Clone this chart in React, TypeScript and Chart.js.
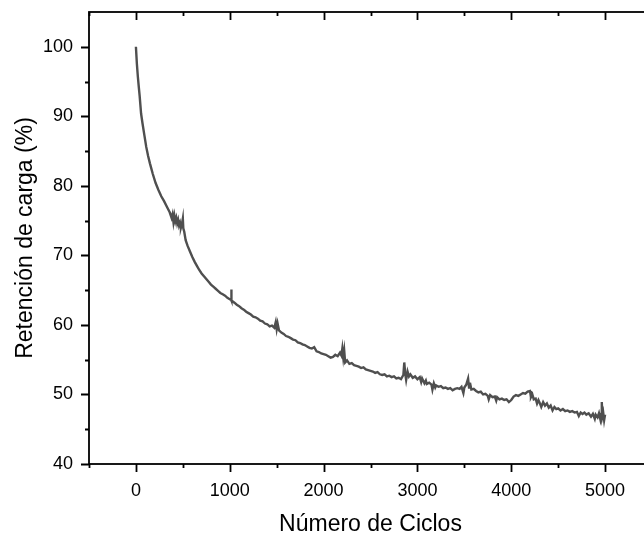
import React, { useEffect, useRef } from "react";
import { Chart, registerables } from "chart.js";

Chart.register(...registerables);

const cycles = [
  0, 10, 20, 30, 40, 55, 70, 90, 110, 130, 150, 180, 210, 240, 270, 300, 330, 360, 380, 390,
  400, 410, 420, 430, 440, 450, 460, 470, 480, 490, 500, 505, 515, 530, 550, 575, 600, 625, 650, 675,
  700, 725, 750, 775, 800, 825, 850, 875, 900, 925, 950, 975, 1000, 1015, 1016, 1020, 1050, 1075, 1100, 1125,
  1150, 1175, 1200, 1225, 1250, 1275, 1300, 1325, 1350, 1375, 1400, 1425, 1450, 1475, 1490, 1500, 1510, 1525, 1550, 1575,
  1600, 1625, 1650, 1675, 1700, 1725, 1750, 1775, 1800, 1825, 1850, 1875, 1900, 1925, 1950, 1975, 2000, 2025, 2050, 2075,
  2100, 2125, 2150, 2175, 2190, 2200, 2210, 2220, 2230, 2250, 2275, 2300, 2325, 2350, 2375, 2400, 2425, 2450, 2475, 2500,
  2525, 2550, 2575, 2600, 2625, 2650, 2675, 2700, 2725, 2750, 2775, 2800, 2825, 2850, 2860, 2870, 2880, 2895, 2910, 2925,
  2950, 2975, 3000, 3025, 3040, 3050, 3075, 3090, 3100, 3125, 3150, 3160, 3175, 3190, 3200, 3225, 3250, 3275, 3300, 3325,
  3350, 3375, 3400, 3425, 3450, 3470, 3490, 3500, 3520, 3540, 3550, 3560, 3575, 3600, 3625, 3650, 3675, 3700, 3725, 3750,
  3760, 3775, 3800, 3825, 3840, 3850, 3875, 3900, 3925, 3950, 3975, 4000, 4025, 4050, 4075, 4100, 4125, 4150, 4175, 4200,
  4210, 4225, 4240, 4260, 4275, 4290, 4300, 4320, 4340, 4360, 4380, 4400, 4420, 4440, 4460, 4480, 4500, 4525, 4550, 4575,
  4600, 4625, 4650, 4675, 4700, 4720, 4740, 4760, 4780, 4800, 4825, 4850, 4870, 4890, 4900, 4920, 4935, 4950, 4960, 4965,
  4970, 4980, 4990, 5000,
];

const retention = [
  100.0, 97.6, 95.8, 94.3, 92.9, 90.4, 89.0, 87.3, 85.6, 84.3, 83.2, 81.7, 80.4, 79.4, 78.5, 77.8, 77.0, 76.2, 75.4, 75.9,
  74.8, 75.7, 74.9, 75.4, 74.6, 75.1, 74.3, 74.7, 74.0, 74.5, 75.3, 73.9, 73.4, 72.2, 71.4, 70.6, 69.8, 69.1, 68.5, 67.9,
  67.4, 67.0, 66.6, 66.2, 65.8, 65.5, 65.2, 64.9, 64.6, 64.4, 64.2, 63.9, 63.7, 63.6, 65.1, 63.5, 63.2, 62.9, 62.7, 62.4,
  62.2, 61.9, 61.7, 61.5, 61.2, 61.1, 60.9, 60.6, 60.5, 60.2, 60.1, 59.8, 59.9, 59.6, 60.4, 59.4, 60.2, 59.2, 58.9, 58.7,
  58.4, 58.3, 58.1, 57.9, 57.8, 57.5, 57.4, 57.2, 57.1, 56.9, 56.7, 56.6, 56.8, 56.2, 56.1, 55.9, 55.8, 55.7, 55.5, 55.3,
  55.4, 55.7, 55.5, 56.0, 55.6, 56.6, 55.3, 56.3, 54.6, 54.9, 54.4, 54.5, 54.2, 54.1, 54.0, 53.8, 53.9, 53.6, 53.5, 53.4,
  53.3, 53.1, 53.2, 52.9, 52.8, 52.9, 52.6, 52.7, 52.5, 52.6, 52.3, 52.4, 52.2, 52.8, 54.6, 53.0, 52.1, 53.3, 52.6, 52.9,
  52.4, 52.6, 52.2, 52.5, 51.8, 52.3, 51.6, 52.0, 51.5, 51.7, 51.4, 50.7, 51.6, 51.0, 51.3, 51.1, 51.2, 50.9, 51.0, 50.8,
  50.9, 50.6, 50.8, 50.9, 50.8, 51.1, 50.2, 51.0, 51.4, 52.3, 51.0, 51.7, 50.7, 50.8, 50.5, 50.3, 50.4, 50.0, 50.1, 49.8,
  49.3, 49.9, 49.6, 49.7, 49.1, 49.6, 49.3, 49.4, 49.2, 49.3, 48.9, 49.2, 49.7, 49.9, 49.8, 50.0, 50.2, 50.1, 50.4, 50.5,
  49.6, 50.0, 49.3, 49.4, 48.7, 49.2, 48.9, 48.2, 48.9, 48.4, 48.7, 48.1, 48.4, 47.7, 48.2, 47.9, 48.0, 47.7, 47.9, 47.6,
  47.7, 47.5, 47.6, 47.4, 47.5, 46.9, 47.4, 47.2, 47.4, 47.1, 47.3, 46.8, 47.2, 46.5, 47.1, 46.7, 47.3, 46.4, 47.2, 48.9,
  46.8, 47.4, 46.3, 47.1,
];

const xTickValues = [0, 1000, 2000, 3000, 4000, 5000];
const xMinorValues = [-500, 500, 1500, 2500, 3500, 4500];
const yTickValues = [40, 50, 60, 70, 80, 90, 100];
const yMinorValues = [45, 55, 65, 75, 85, 95];

const X_MIN = -500;
const X_MAX = 5500;
const Y_MIN = 40;
const Y_MAX = 105;

const xTitle = "Número de Ciclos";
const yTitle = "Retención de carga (%)";

const FONT = "'Liberation Sans', Arial, sans-serif";

const framePlugin = {
  id: "originFrame",
  afterDatasetsDraw(chart: any) {
    const { ctx, chartArea, scales } = chart;
    const { left, right, top, bottom } = chartArea;
    const x = scales.x;
    const y = scales.y;
    const major = 8;
    const minor = 4;
    ctx.save();
    ctx.strokeStyle = "#000";
    ctx.lineWidth = 1.8;
    ctx.strokeRect(left, top, right - left, bottom - top);
    ctx.beginPath();
    xTickValues.forEach((v) => {
      const px = Math.round(x.getPixelForValue(v)) + 0.5;
      ctx.moveTo(px, bottom);
      ctx.lineTo(px, bottom + major);
      ctx.moveTo(px, top);
      ctx.lineTo(px, top + major);
    });
    xMinorValues.forEach((v) => {
      const px = Math.round(x.getPixelForValue(v)) + 0.5;
      ctx.moveTo(px, bottom);
      ctx.lineTo(px, bottom + minor);
      ctx.moveTo(px, top);
      ctx.lineTo(px, top + minor);
    });
    yTickValues.forEach((v) => {
      const py = Math.round(y.getPixelForValue(v)) + 0.5;
      ctx.moveTo(left, py);
      ctx.lineTo(left - major, py);
      ctx.moveTo(right, py);
      ctx.lineTo(right - major, py);
    });
    yMinorValues.forEach((v) => {
      const py = Math.round(y.getPixelForValue(v)) + 0.5;
      ctx.moveTo(left, py);
      ctx.lineTo(left - minor, py);
      ctx.moveTo(right, py);
      ctx.lineTo(right - minor, py);
    });
    ctx.stroke();
    ctx.restore();
  },
};

export default function App() {
  const canvasRef = useRef<HTMLCanvasElement | null>(null);

  useEffect(() => {
    if (!canvasRef.current) return;
    const points = cycles.map((c, i) => ({ x: c, y: retention[i] }));
    const chart = new Chart(canvasRef.current, {
      type: "line",
      data: {
        datasets: [
          {
            data: points,
            borderColor: "#4f4f4f",
            borderWidth: 2.4,
            pointRadius: 0,
            tension: 0,
            fill: false,
          },
        ],
      },
      options: {
        responsive: false,
        animation: false,
        devicePixelRatio: 1,
        layout: { padding: { left: 14, top: 12, right: 8, bottom: 0 } },
        plugins: {
          legend: { display: false },
          tooltip: { enabled: false },
        },
        scales: {
          x: {
            type: "linear",
            min: X_MIN,
            max: X_MAX,
            grid: { display: false },
            border: { display: false },
            afterBuildTicks: (scale: any) => {
              scale.ticks = xTickValues.map((v) => ({ value: v }));
            },
            afterFit: (scale: any) => {
              scale.height = 72;
              scale.paddingLeft = 0;
              scale.paddingRight = 0;
            },
            ticks: {
              color: "#000",
              padding: 8,
              maxRotation: 0,
              autoSkip: false,
              font: { family: FONT, size: 18 },
              callback: (v: any) => String(v),
            },
            title: {
              display: true,
              text: xTitle,
              color: "#000",
              font: { family: FONT, size: 23, lineHeight: 1.0 },
              padding: 0,
            },
          },
          y: {
            type: "linear",
            min: Y_MIN,
            max: Y_MAX,
            grid: { display: false },
            border: { display: false },
            afterBuildTicks: (scale: any) => {
              scale.ticks = yTickValues.map((v) => ({ value: v }));
            },
            afterFit: (scale: any) => {
              scale.width = 75;
              scale.paddingTop = 0;
              scale.paddingBottom = 0;
            },
            ticks: {
              color: "#000",
              padding: 8,
              autoSkip: false,
              font: { family: FONT, size: 18 },
              callback: (v: any) => String(v),
            },
            title: {
              display: true,
              text: yTitle,
              color: "#000",
              font: { family: FONT, size: 23, lineHeight: 1.0 },
              padding: 0,
            },
          },
        },
      },
      plugins: [framePlugin],
    });
    return () => chart.destroy();
  }, []);

  return (
    <div
      style={{
        position: "absolute",
        left: 0,
        top: 0,
        width: 644,
        height: 536,
        overflow: "hidden",
        background: "#fff",
      }}
    >
      <canvas ref={canvasRef} width={660} height={536} style={{ display: "block" }} />
    </div>
  );
}
